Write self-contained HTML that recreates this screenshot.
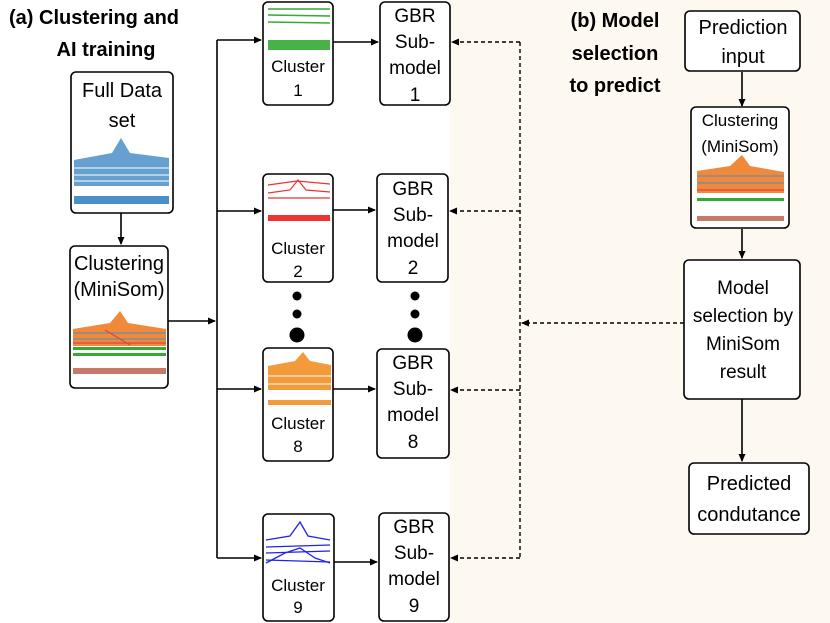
<!DOCTYPE html>
<html><head><meta charset="utf-8"><style>
html,body{margin:0;padding:0;background:#fff}
svg{display:block}
text{font-family:"Liberation Sans",Arial,sans-serif;fill:#000}
.b{font-weight:bold;font-size:20px}
.n{font-size:20px}
.g{font-size:19px}
.s{font-size:17px}
</style></head><body>
<svg width="830" height="623" viewBox="0 0 830 623" xmlns="http://www.w3.org/2000/svg">
<defs>
<marker id="a" markerWidth="8" markerHeight="8" refX="7" refY="4" orient="auto" markerUnits="userSpaceOnUse"><path d="M0,0.5 L8,4 L0,7.5z" fill="#000"/></marker>
</defs>
<rect x="450" y="0" width="380" height="623" fill="#fdf8f0"/>
<text class="b" x="9" y="24">(a) Clustering and</text>
<text class="b" x="106" y="56" text-anchor="middle">AI training</text>
<text class="b" x="615" y="27" text-anchor="middle">(b) Model</text>
<text class="b" x="615" y="60" text-anchor="middle">selection</text>
<text class="b" x="615" y="92" text-anchor="middle">to predict</text>

<g fill="none" stroke="#000" stroke-width="1.6">
<line x1="121" y1="213" x2="121" y2="244" marker-end="url(#a)"/>
<line x1="168" y1="321" x2="215" y2="321" marker-end="url(#a)"/>
<line x1="217" y1="40" x2="217" y2="558"/>
<line x1="217" y1="40" x2="261" y2="40" marker-end="url(#a)"/>
<line x1="217" y1="211" x2="261" y2="211" marker-end="url(#a)"/>
<line x1="217" y1="389" x2="261" y2="389" marker-end="url(#a)"/>
<line x1="217" y1="558" x2="261" y2="558" marker-end="url(#a)"/>
<line x1="333" y1="42" x2="378" y2="42" marker-end="url(#a)"/>
<line x1="333" y1="210" x2="375" y2="210" marker-end="url(#a)"/>
<line x1="333" y1="389" x2="375" y2="389" marker-end="url(#a)"/>
<line x1="334" y1="562" x2="377" y2="562" marker-end="url(#a)"/>
<line x1="742" y1="72" x2="742" y2="106" marker-end="url(#a)"/>
<line x1="742" y1="229" x2="742" y2="258" marker-end="url(#a)"/>
<line x1="742" y1="399" x2="742" y2="461" marker-end="url(#a)"/>
</g>
<g fill="none" stroke="#000" stroke-width="1.4" stroke-dasharray="4,3">
<polyline points="520,42 520,558"/>
<line x1="520" y1="42" x2="452" y2="42" marker-end="url(#a)"/>
<line x1="520" y1="211" x2="450" y2="211" marker-end="url(#a)"/>
<line x1="520" y1="390" x2="451" y2="390" marker-end="url(#a)"/>
<line x1="520" y1="558" x2="451" y2="558" marker-end="url(#a)"/>
<line x1="684" y1="323" x2="522" y2="323" marker-end="url(#a)"/>
</g>

<g fill="#fff" stroke="#000" stroke-width="1.6">
<rect x="71" y="72" width="102" height="141" rx="5"/>
<rect x="70" y="246" width="98" height="142" rx="5"/>
<rect x="263" y="2" width="70" height="103" rx="5"/>
<rect x="263" y="174" width="70" height="108" rx="5"/>
<rect x="263" y="348" width="70" height="113" rx="5"/>
<rect x="263" y="514" width="71" height="107" rx="5"/>
<rect x="380" y="2" width="70" height="103" rx="5"/>
<rect x="377" y="174" width="71" height="108" rx="5"/>
<rect x="377" y="349" width="72" height="109" rx="5"/>
<rect x="379" y="513" width="70" height="108" rx="5"/>
<rect x="685" y="11" width="115" height="60" rx="5"/>
<rect x="691" y="107" width="98" height="121" rx="5"/>
<rect x="684" y="260" width="116" height="139" rx="5"/>
<rect x="689" y="463" width="120" height="71" rx="5"/>
</g>

<g>
<path d="M74,160 L112,153 L121,138 L130,153 L169,158 L169,186 L74,186z" fill="#4a8fc8" opacity="0.85"/>
<g stroke="#fff" stroke-width="1"><line x1="74" y1="168" x2="169" y2="168"/><line x1="74" y1="175" x2="169" y2="175"/><line x1="74" y1="181" x2="169" y2="181"/></g>
<rect x="74" y="196" width="95" height="8" fill="#4a8fc8"/>

<path d="M73,329 L110,323 L120,311 L128,323 L166,329 L166,346 L73,346z" fill="#f08a3a"/>
<g stroke="#4a8fc8" stroke-width="1"><line x1="73" y1="333" x2="166" y2="333"/><line x1="73" y1="339" x2="166" y2="339"/></g>
<g stroke="#d44" stroke-width="1.2"><line x1="73" y1="343" x2="166" y2="343"/><line x1="105" y1="330" x2="130" y2="345"/></g>
<rect x="73" y="347" width="93" height="3" fill="#3a3"/>
<rect x="73" y="353" width="93" height="3" fill="#3a3"/>
<rect x="73" y="368" width="93" height="6" fill="#c87a6a"/>

<g stroke="#3a3" stroke-width="1.5"><line x1="268" y1="9" x2="330" y2="9"/><line x1="268" y1="15" x2="330" y2="16"/><line x1="268" y1="22" x2="330" y2="23"/></g>
<rect x="268" y="40" width="62" height="10" fill="#3a3" opacity="0.9"/>

<g stroke="#e33" stroke-width="1.2" fill="none"><path d="M268,185 L297,181 L330,184"/><path d="M268,193 L290,190 L298,180 L306,190 L330,192"/><path d="M268,198 L330,198"/></g>
<rect x="268" y="215" width="62" height="6" fill="#e33"/>

<path d="M268,366 L295,361 L303,352 L310,361 L331,365 L331,390 L268,390z" fill="#f39a3a"/>
<g stroke="#fff" stroke-width="1"><line x1="268" y1="376" x2="331" y2="376"/><line x1="268" y1="384" x2="331" y2="384"/></g>
<rect x="268" y="400" width="63" height="5" fill="#f39a3a"/>

<g stroke="#22e" stroke-width="1.3" fill="none"><path d="M266,540 L290,536 L300,522 L308,536 L330,540"/><path d="M266,547 L330,545"/><path d="M266,553 L330,551"/><path d="M266,563 L285,553 L300,548 L315,558 L330,563"/><path d="M266,560 L330,562"/></g>

<path d="M697,171 L730,166 L742,155 L750,166 L784,172 L784,193 L697,193z" fill="#f08a3a"/>
<g stroke="#4a8fc8" stroke-width="1"><line x1="697" y1="176" x2="784" y2="176"/><line x1="697" y1="183" x2="784" y2="183"/></g>
<g stroke="#d44" stroke-width="1.2"><line x1="697" y1="190" x2="784" y2="190"/></g>
<rect x="697" y="198" width="87" height="3" fill="#3a3"/>
<rect x="697" y="216" width="87" height="5" fill="#c87a6a"/>
</g>

<g fill="#000">
<circle cx="297" cy="296" r="4.5"/><circle cx="297" cy="314" r="4.5"/><circle cx="297" cy="335" r="7.5"/>
<circle cx="415" cy="296" r="4.5"/><circle cx="415" cy="314" r="4.5"/><circle cx="415" cy="335" r="7.5"/>
</g>

<g text-anchor="middle">
<text class="n" x="122" y="97">Full Data</text>
<text class="n" x="122" y="127">set</text>
<text class="n" x="119" y="270">Clustering</text>
<text class="n" x="119" y="296">(MiniSom)</text>
<text class="s" x="298" y="72">Cluster</text><text class="s" x="298" y="96">1</text>
<text class="s" x="298" y="254">Cluster</text><text class="s" x="298" y="277">2</text>
<text class="s" x="298" y="429">Cluster</text><text class="s" x="298" y="452">8</text>
<text class="s" x="298" y="591">Cluster</text><text class="s" x="298" y="613">9</text>
<text class="g" x="415" y="22">GBR</text><text class="g" x="415" y="48">Sub-</text><text class="g" x="415" y="74">model</text><text class="g" x="415" y="101">1</text>
<text class="g" x="413" y="195">GBR</text><text class="g" x="413" y="221">Sub-</text><text class="g" x="413" y="247">model</text><text class="g" x="413" y="274">2</text>
<text class="g" x="413" y="369">GBR</text><text class="g" x="413" y="395">Sub-</text><text class="g" x="413" y="421">model</text><text class="g" x="413" y="448">8</text>
<text class="g" x="414" y="533">GBR</text><text class="g" x="414" y="559">Sub-</text><text class="g" x="414" y="585">model</text><text class="g" x="414" y="612">9</text>
<text class="n" x="743" y="34">Prediction</text>
<text class="n" x="743" y="63">input</text>
<text class="s" x="740" y="126">Clustering</text>
<text class="s" x="740" y="152">(MiniSom)</text>
<text class="g" x="743" y="294">Model</text>
<text class="g" x="743" y="322">selection by</text>
<text class="g" x="743" y="350">MiniSom</text>
<text class="g" x="743" y="378">result</text>
<text class="n" x="749" y="490">Predicted</text>
<text class="n" x="749" y="521">condutance</text>
</g>
</svg>
</body></html>
